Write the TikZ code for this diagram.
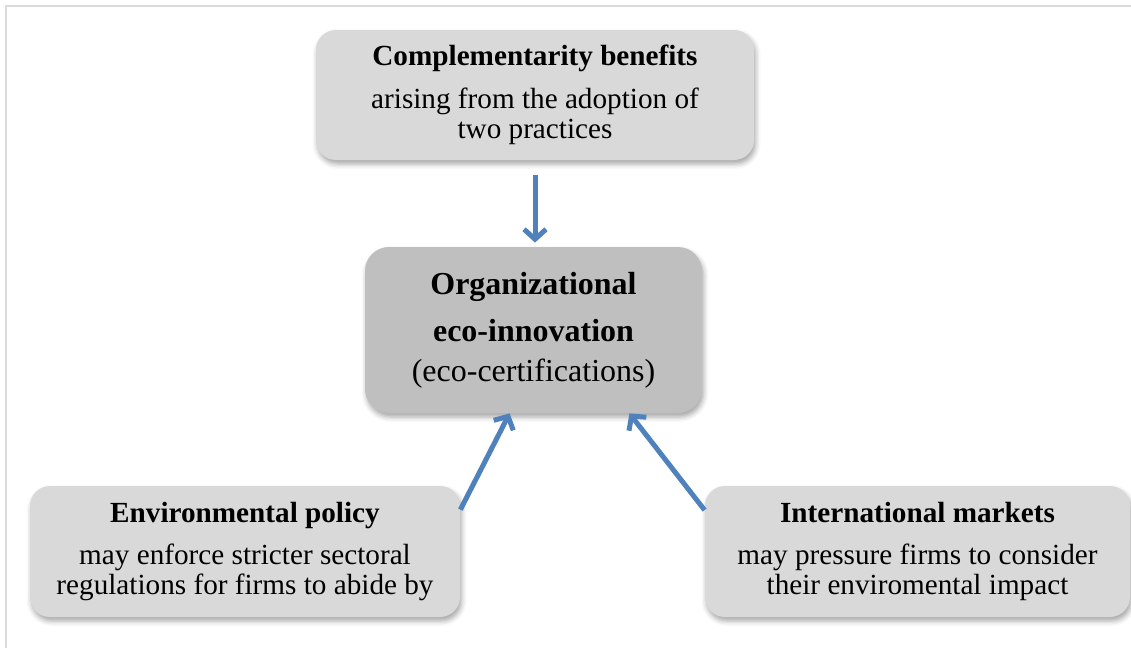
\documentclass[tikz,border=0pt]{standalone}
\usepackage{fontspec}
\setmainfont{Liberation Serif}
\usetikzlibrary{arrows.meta,shadows.blur}
\definecolor{boxgray}{RGB}{217,217,217}
\definecolor{coregray}{RGB}{191,191,191}
\definecolor{flowblue}{RGB}{79,129,189}
\definecolor{framegray}{RGB}{218,218,218}
\tikzset{
  factor/.style={rectangle,rounded corners=10pt,fill=boxgray,align=center,inner sep=0pt,
    font=\fontsize{14.6}{15}\selectfont,
    blur shadow={shadow xshift=0.8pt,shadow yshift=-2pt,shadow blur radius=2.5pt,shadow opacity=35}},
  core/.style={factor,fill=coregray,rounded corners=12pt,font=\fontsize{16}{20}\selectfont},
  flow/.style={draw=flowblue,line width=2.5pt,-{Straight Barb[length=5pt,width=11pt]}}
}

\begin{document}
\begin{tikzpicture}[x=0.5pt,y=-0.5pt]
\useasboundingbox (0,0) rectangle (1131,648);
\draw[framegray,line width=1pt] (6,648) -- (6,6) -- (1131,6);

\node[factor,minimum width=219pt,minimum height=65pt] (compl) at (535,95) {\textbf{Complementarity benefits}\\[6.5pt]
  arising from the adoption of\\ two practices};
\node[core,minimum width=168.5pt,minimum height=83pt] (ecoinn) at (533.5,330) {\textbf{Organizational}\\[3.5pt]
  \textbf{eco-innovation}\\ (eco-certifications)};
\node[factor,minimum width=215pt,minimum height=65.5pt] (policy) at (245,551.5) {\textbf{Environmental policy}\\[6pt]
  may enforce stricter sectoral\\ regulations for firms to abide by};
\node[factor,minimum width=212.5pt,minimum height=65.5pt] (markets) at (917.5,551.5) {\textbf{International markets}\\[6pt]
  may pressure firms to consider\\ their enviromental impact};

\draw[flow,shorten <=7.5pt,shorten >=2pt] (compl.south) -- (compl.south |- ecoinn.north);
\draw[flow] (policy.11) -- (ecoinn.254);
\draw[flow] (markets.169) -- (ecoinn.319);
\end{tikzpicture}
\end{document}
